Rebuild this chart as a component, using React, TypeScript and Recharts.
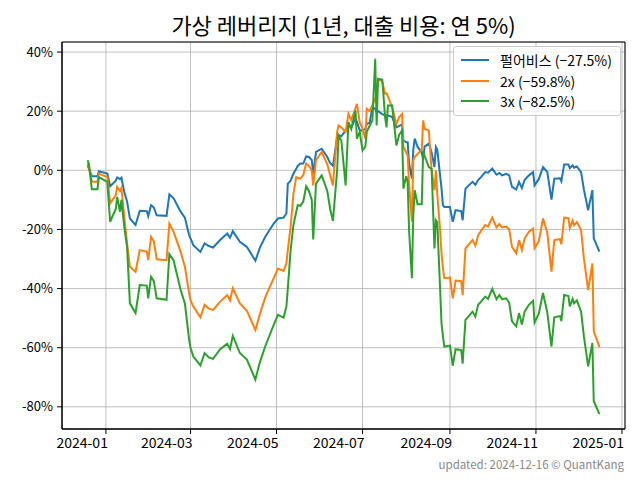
import { LineChart, Line, XAxis, YAxis, CartesianGrid, Legend, ReferenceArea } from 'recharts';

// trading dates and cumulative returns in %
const dates = [
  '2023-12-19', '2023-12-20', '2023-12-22', '2023-12-26', '2023-12-27',
  '2024-01-02', '2024-01-04', '2024-01-08', '2024-01-09', '2024-01-11', '2024-01-12', '2024-01-14', '2024-01-16', '2024-01-18', '2024-01-22', '2024-01-25', '2024-01-30', '2024-01-31',
  '2024-02-02', '2024-02-04', '2024-02-06', '2024-02-13', '2024-02-15', '2024-02-18', '2024-02-23', '2024-02-26', '2024-02-29',
  '2024-03-01', '2024-03-03', '2024-03-08', '2024-03-11', '2024-03-14', '2024-03-17', '2024-03-22', '2024-03-27', '2024-03-29', '2024-03-31',
  '2024-04-05', '2024-04-10', '2024-04-16', '2024-04-19', '2024-04-23', '2024-04-29',
  '2024-05-02', '2024-05-06', '2024-05-08', '2024-05-09', '2024-05-11', '2024-05-13', '2024-05-15', '2024-05-16', '2024-05-18', '2024-05-20', '2024-05-22', '2024-05-24', '2024-05-26', '2024-05-27', '2024-05-29',
  '2024-06-02', '2024-06-06', '2024-06-08', '2024-06-10', '2024-06-13', '2024-06-14', '2024-06-16', '2024-06-19', '2024-06-21', '2024-06-23', '2024-06-26', '2024-06-27', '2024-06-29',
  '2024-07-01', '2024-07-03', '2024-07-04', '2024-07-06', '2024-07-08', '2024-07-10', '2024-07-11', '2024-07-12', '2024-07-15', '2024-07-17', '2024-07-18', '2024-07-19', '2024-07-22', '2024-07-25', '2024-07-27', '2024-07-29', '2024-07-30',
  '2024-08-01', '2024-08-02', '2024-08-03', '2024-08-05', '2024-08-06', '2024-08-07', '2024-08-09', '2024-08-12', '2024-08-13', '2024-08-14', '2024-08-17', '2024-08-19', '2024-08-21', '2024-08-22', '2024-08-23', '2024-08-25', '2024-08-26', '2024-08-27', '2024-08-28',
  '2024-09-01', '2024-09-03', '2024-09-05', '2024-09-09', '2024-09-10', '2024-09-12', '2024-09-17', '2024-09-19', '2024-09-21', '2024-09-23', '2024-09-26', '2024-09-28',
  '2024-10-01', '2024-10-04', '2024-10-06', '2024-10-08', '2024-10-11', '2024-10-13', '2024-10-15', '2024-10-18', '2024-10-20', '2024-10-22', '2024-10-24', '2024-10-27', '2024-10-30', '2024-10-31',
  '2024-11-03', '2024-11-06', '2024-11-09', '2024-11-12', '2024-11-14', '2024-11-18', '2024-11-19', '2024-11-21', '2024-11-24', '2024-11-25', '2024-11-27', '2024-11-28', '2024-11-30',
  '2024-12-03', '2024-12-05', '2024-12-08', '2024-12-11', '2024-12-12', '2024-12-16',
];

const stockPct = [
  1.7, 0.5, -2, -2, -0.3,
  -1.1, -5.4, -3.5, -2.4, -3, -2.5, -7.3, -10.5, -16.3, -18.5, -13.7, -13.8, -15.5,
  -11.8, -12.6, -15.2, -15.4, -8.1, -9.5, -14, -16, -21.9,
  -23, -25.3, -27.6, -24.7, -25.6, -26.1, -23.6, -21.4, -22.8, -20.6,
  -24.2, -25.9, -30.6, -26.4, -22.5, -18,
  -16.3, -16, -14.6, -4.5, -3.5, -1.1, 0.5, 1.5, 2.3, 2.3, 4.7, 4.5, 3.5, -1.1, 6.2,
  7.3, 4.5, 2.5, 1.5, 11.2, 12, 11.5, 13.5, 15, 14.5, 17.4, 16.5, 13.5,
  13.5, 14, 15.7, 16, 21.3, 20.8, 19.5, 20, 19, 18.5, 18.5, 18.5, 18, 14.5, 15, 15.5, 10.1,
  9.5, 9.5, 2.3, -2.8, 7, 10.7, 8, 6, 3.4, 8, 9, 6, 1.1, 7.9, 7, -1.7, -6, -11.8, -12.4,
  -12.4, -17.4, -13.5, -13.8, -16.9, -6.2, -3.9, -4.9, -3.3, -2.3, -0.6, -0.8,
  0.6, -1.5, -0.9, -1.7, -1.2, -1.7, -5.6, -6.5, -3.9, -6, -3.2, -1.7, -0.6, -5.1,
  -3, 1.1, -0.5, -9.9, -2.8, -2.7, -3.7, 2, 2, 0.7, 1.7, 0.9, 1.3,
  -0.6, -6.5, -13.5, -6.7, -23, -27.5,
];

const lev2Pct = [
  2.3, 1, -3.9, -3.9, -1.1,
  -2.3, -11.2, -8.4, -5.6, -7, -6, -15.7, -24.7, -32.6, -34.3, -27, -27.5, -30.4,
  -22.5, -24, -30.1, -30.4, -18, -20.8, -27.6, -32.6, -41.6,
  -44, -46.1, -49.7, -45.5, -46.8, -47.2, -44.4, -42.2, -44, -39.9,
  -45, -47.5, -54, -48.9, -43, -36.5,
  -33.2, -34, -31.5, -27, -19, -7.9, -2.3, -2.5, -2.8, -1.5, 2.3, 1.5, 0, -5.1, 3.4,
  6.2, 2, -1.5, -5.1, 13, 15.2, 14.5, 13, 19.1, 17, 21, 22.5, 16.3,
  14, 10.7, 20.8, 20, 22, 24.2, 26, 30.9, 30, 25.9, 26, 25, 21.3, 15.7, 18, 19, 7.9,
  6, 5, -4.5, -17.4, 3.4, 4.5, 5.5, 7, 16.9, 14, 13.5, 0, -6.7, 0, -8, -20.2, -28, -33, -36.5,
  -36.3, -43.3, -37.3, -37.5, -42.2, -26.4, -23.6, -25.5, -22, -20.5, -18.5, -19,
  -16, -19.3, -18.2, -19.3, -19, -20, -25.9, -28.1, -23.6, -27, -23, -20.8, -19.7, -26.4,
  -24, -16.3, -21, -34.3, -23.6, -23.3, -25, -16, -16.2, -19.5, -17, -18.6, -17.5,
  -20.2, -29.8, -40.5, -31.5, -54.5, -59.8,
];

const lev3Pct = [
  3.4, 2, -6.4, -6.4, -2.3,
  -3.9, -17.4, -13, -9, -14, -10, -19.1, -25.9, -45, -48.3, -38.8, -39, -43.3,
  -36, -37.5, -43.3, -43.8, -28.3, -30.5, -40.5, -45, -57.3,
  -60, -63, -66, -61.8, -63.3, -63.8, -60.5, -58.7, -60.5, -56,
  -61.8, -64, -70.8, -65.2, -59.5, -52.3,
  -48.9, -49.8, -46.1, -40, -27, -18.5, -14, -11.8, -12, -10.5, -5.4, -7, -10, -23.4, -4.5,
  -1.7, -7, -13, -17.1, 0, 11.8, 10, -5.1, 16.3, 14, 20.2, 10.7, 13,
  6.7, 8, 13, 15, 16.9, 37.7, 15.2, 30.9, 30.7, 18, 14.5, 21.9, 21.9, 8.4, 12, 13.5, -6.2,
  -2, -4, -20.2, -36.5, -15, -6.7, -11.5, -11.5, 6.7, 5, 1.1, 0.5, -26.4, -16.9, -17.5, -40, -51.7, -56, -59.6,
  -59.3, -66.1, -60.5, -60.8, -65.4, -50.6, -47.8, -49.5, -45.5, -44.4, -42.7, -43.5,
  -40.1, -43.6, -42.2, -43.6, -43.3, -44.9, -51.1, -52.8, -48.3, -52.2, -47.7, -45.5, -44.1, -51.5,
  -48.5, -41.5, -48, -59.6, -49.7, -49.3, -51, -42.2, -42.5, -46, -43.5, -45, -44,
  -47.8, -56.2, -66.3, -58.4, -78.1, -82.5,
];

const seriesNames = ['펄어비스 (−27.5%)', '2x (−59.8%)', '3x (−82.5%)'];
const seriesKeys = ['s1', 's2', 's3'];
const seriesColors = ['#1f77b4', '#ff7f0e', '#2ca02c'];

const xTickLabels = ['2024-01', '2024-03', '2024-05', '2024-07', '2024-09', '2024-11', '2025-01'];
const yTicks = [40, 20, 0, -20, -40, -60, -80];

const FONT = '"Noto Sans CJK KR", "Noto Sans", sans-serif';

const data = dates.map((d, i) => ({
  t: Date.parse(d),
  s1: stockPct[i],
  s2: lev2Pct[i],
  s3: lev3Pct[i],
}));

const xTicks = xTickLabels.map((m) => Date.parse(`${m}-01`));
const tFirst = data[0].t;
const tLast = data[data.length - 1].t;
const xPad = (tLast - tFirst) * 0.05;
const xDomain = [tFirst - xPad, tLast + xPad];
const yDomain = [-87.5, 43.4];

function fmtMonth(v: number) {
  const i = xTicks.indexOf(v);
  return i >= 0 ? xTickLabels[i] : '';
}

// matplotlib-style date labels: right edge sits on the tick
function MonthTick(props: any) {
  const { x, y, payload } = props;
  return (
    <text x={x + 2} y={y} dy="0.85em" textAnchor="end" fill="#000" fontSize={14} fontFamily={FONT}>
      {fmtMonth(payload.value)}
    </text>
  );
}

function LegendBox() {
  return (
    <div
      style={{
        background: 'rgba(255,255,255,0.8)',
        border: '1px solid #cccccc',
        borderRadius: 3,
        padding: '3px 6px 3px 7px',
        width: 153,
        fontFamily: FONT,
      }}
    >
      {seriesNames.map((name, i) => (
        <div key={name} style={{ display: 'flex', alignItems: 'center', height: 20.5 }}>
          <svg width={28} height={4}>
            <line x1={0} y1={2} x2={28} y2={2} stroke={seriesColors[i]} strokeWidth={2} />
          </svg>
          <span style={{ marginLeft: 11, fontSize: 14, color: '#000', whiteSpace: 'nowrap' }}>{name}</span>
        </div>
      ))}
    </div>
  );
}

export default function App() {
  return (
    <div style={{ position: 'absolute', left: 0, top: 0, width: 640, height: 480, background: '#fff', fontFamily: FONT }}>
      <div
        style={{
          position: 'absolute',
          left: 62,
          width: 563,
          top: 11,
          textAlign: 'center',
          fontSize: 22,
          lineHeight: '26px',
          color: '#000',
        }}
      >
        가상 레버리지 (1년, 대출 비용: 연 5%)
      </div>
      <LineChart
        width={640}
        height={480}
        data={data}
        margin={{ top: 42, right: 15, bottom: 21, left: 0 }}
        style={{ position: 'absolute', left: 0, top: 0 }}
      >
        <CartesianGrid stroke="#b0b0b0" strokeWidth={0.8} />
        <XAxis
          dataKey="t"
          type="number"
          domain={xDomain}
          ticks={xTicks}
          tickFormatter={fmtMonth}
          height={30}
          tickSize={5}
          tickMargin={2}
          axisLine={{ stroke: '#000' }}
          tickLine={{ stroke: '#000' }}
          tick={<MonthTick />}
          interval={0}
          allowDataOverflow
        />
        <YAxis
          type="number"
          domain={yDomain}
          ticks={yTicks}
          tickFormatter={(v: number) => `${v}%`}
          width={62}
          tickSize={5}
          tickMargin={4}
          axisLine={{ stroke: '#000' }}
          tickLine={{ stroke: '#000' }}
          tick={{ fill: '#000', fontSize: 13, fontFamily: FONT }}
          allowDataOverflow
        />
        <ReferenceArea
          x1={xDomain[0]}
          x2={xDomain[1]}
          y1={yDomain[0]}
          y2={yDomain[1]}
          fill="none"
          stroke="#000"
          strokeWidth={1}
          ifOverflow="visible"
        />
        {seriesKeys.map((k, i) => (
          <Line
            key={k}
            dataKey={k}
            name={seriesNames[i]}
            type="linear"
            stroke={seriesColors[i]}
            strokeWidth={2}
            dot={false}
            activeDot={false}
            isAnimationActive={false}
          />
        ))}
        <Legend
          layout="vertical"
          align="center"
          verticalAlign="middle"
          content={() => <LegendBox />}
          wrapperStyle={{ left: 453, top: 46, width: 'auto', height: 'auto' }}
        />
      </LineChart>
      <div
        style={{
          position: 'absolute',
          right: 16,
          top: 456,
          fontSize: 11.5,
          color: '#888',
          fontFamily: FONT,
        }}
      >
        updated: 2024-12-16 © QuantKang
      </div>
    </div>
  );
}
